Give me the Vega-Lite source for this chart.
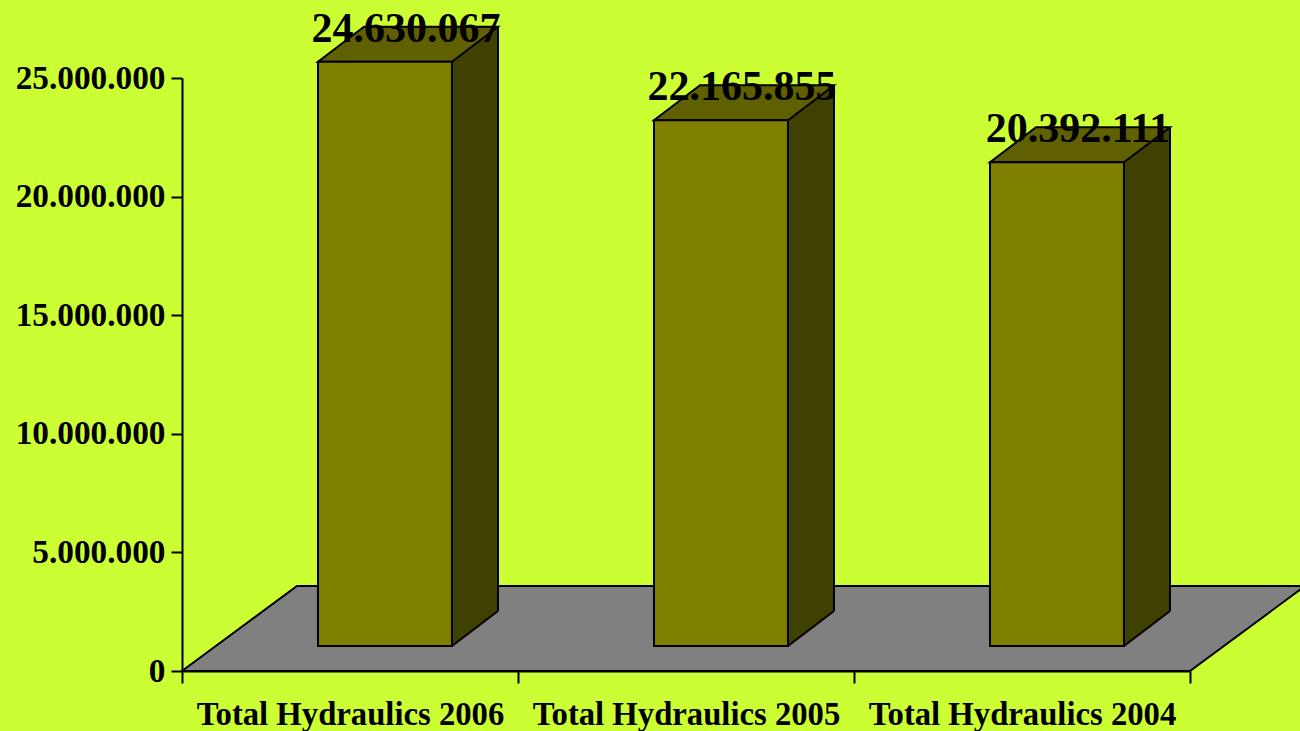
{
  "$schema": "https://vega.github.io/schema/vega-lite/v6.json",
  "width": 1008,
  "height": 593,
  "autosize": {"type": "none"},
  "padding": {"left": 182, "top": 78, "right": 110, "bottom": 60},
  "background": "#CCFF33",
  "config": {
    "view": {"stroke": null},
    "locale": {"number": {"decimal": ",", "thousands": ".", "grouping": [3], "currency": ["", " €"]}},
    "axis": {
      "labelFont": "Liberation Serif",
      "labelFontWeight": "bold",
      "labelColor": "black",
      "domainColor": "black",
      "tickColor": "black",
      "domainWidth": 2,
      "tickWidth": 2,
      "grid": false,
      "labelLimit": 600
    }
  },
  "data": {"values": [
    {"category": "Total Hydraulics 2006", "value": 24630067},
    {"category": "Total Hydraulics 2005", "value": 22165855},
    {"category": "Total Hydraulics 2004", "value": 20392111}
  ]},
  "encoding": {
    "x": {
      "field": "category", "type": "nominal",
      "scale": {"domain": ["Total Hydraulics 2006", "Total Hydraulics 2005", "Total Hydraulics 2004"], "paddingInner": 0, "paddingOuter": 0},
      "axis": {"title": null, "labelAngle": 0, "tickBand": "extent", "tickSize": 12, "labelPadding": 15, "labelFontSize": 32.7}
    },
    "y": {
      "field": "value", "type": "quantitative",
      "scale": {"domain": [0, 25000000], "nice": false},
      "axis": {"title": null, "values": [0, 5000000, 10000000, 15000000, 20000000, 25000000], "format": ",d", "tickSize": 11, "labelPadding": 6, "labelFontSize": 33.3}
    }
  },
  "layer": [
    {
      "transform": [{"filter": "datum.category === 'Total Hydraulics 2005'"}],
      "mark": {"type": "point", "shape": "M -504 0 L 504 0 L 619 -85 L -389 -85 Z", "size": 4, "filled": true, "fill": "#808080", "stroke": "black", "strokeWidth": 2, "opacity": 1},
      "encoding": {"y": {"datum": 0}}
    },
    {
      "mark": {"type": "bar", "width": 46, "xOffset": 125, "yOffset": -25, "y2Offset": -60, "fill": "#404000", "strokeWidth": 0},
      "encoding": {"y2": {"datum": 0}}
    },
    {
      "mark": {"type": "point", "shape": "M 102 -25 L 148 -60 L 148 -23 L 102 -23 Z", "size": 4, "filled": true, "fill": "#404000", "strokeWidth": 0, "opacity": 1}
    },
    {
      "mark": {"type": "point", "shape": "M 102 -62 L 148 -62 L 148 -60 L 102 -25 Z", "size": 4, "filled": true, "fill": "#404000", "strokeWidth": 0, "opacity": 1},
      "encoding": {"y": {"datum": 0}}
    },
    {
      "mark": {"type": "point", "shape": "M 102 -25 L 148 -60", "size": 4, "filled": false, "stroke": "black", "strokeWidth": 2, "opacity": 1},
      "encoding": {"y": {"datum": 0}}
    },
    {
      "mark": {"type": "rule", "xOffset": 148, "yOffset": -60, "y2Offset": -60, "stroke": "black", "strokeWidth": 2},
      "encoding": {"y2": {"datum": 0}}
    },
    {
      "mark": {"type": "point", "shape": "M -32 -25 L 102 -25 L 148 -60 L 14 -60 Z", "size": 4, "filled": true, "fill": "#606000", "stroke": "black", "strokeWidth": 2, "strokeJoin": "miter", "opacity": 1}
    },
    {
      "mark": {"type": "bar", "width": 134, "xOffset": 35, "yOffset": -25, "y2Offset": -25, "fill": "#808000", "stroke": "black", "strokeWidth": 2},
      "encoding": {"y2": {"datum": 0}}
    },
    {
      "mark": {"type": "text", "xOffset": 56, "yOffset": -45, "baseline": "alphabetic", "align": "center", "font": "Liberation Serif", "fontWeight": "bold", "fontSize": 42, "color": "black"},
      "encoding": {"text": {"field": "value", "type": "quantitative", "format": ",d"}}
    }
  ]
}
